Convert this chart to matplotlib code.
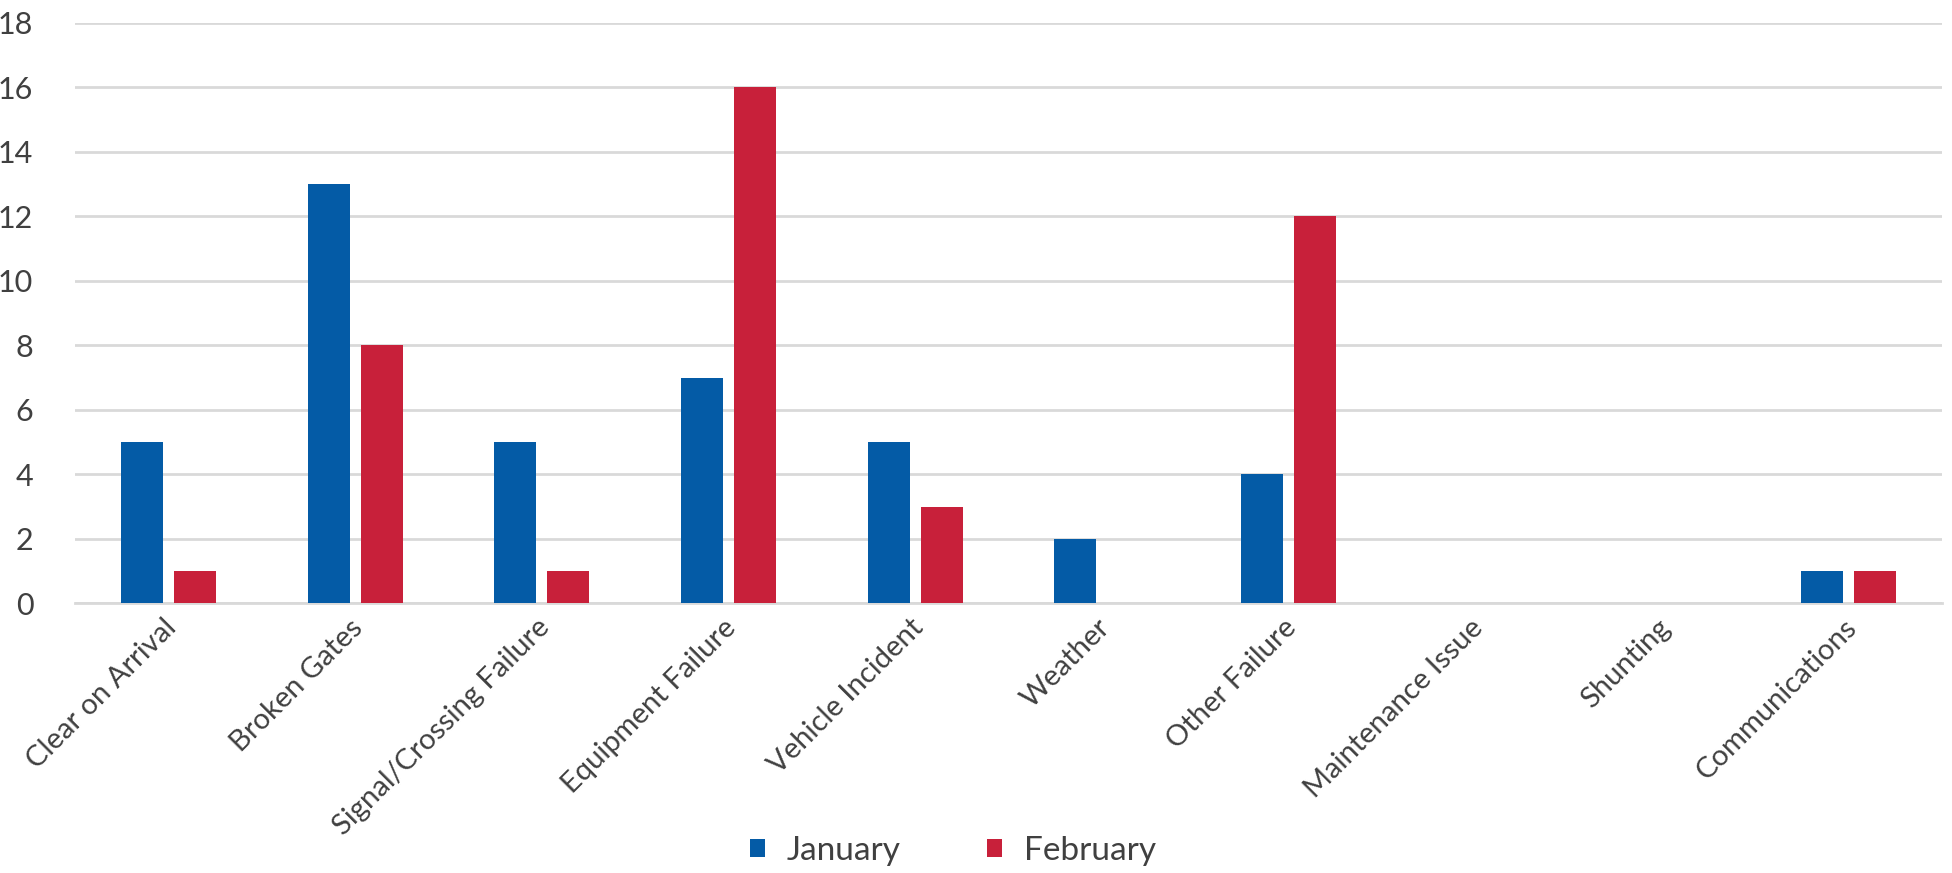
import matplotlib
matplotlib.use("Agg")
import matplotlib.pyplot as plt
import numpy as np

categories = ["Clear on Arrival", "Broken Gates", "Signal/Crossing Failure",
              "Equipment Failure", "Vehicle Incident", "Weather", "Other Failure",
              "Maintenance Issue", "Shunting", "Communications"]
january = [5, 13, 5, 7, 5, 2, 4, 0, 0, 1]
february = [1, 8, 1, 16, 3, 0, 12, 0, 0, 1]
series_names = ["January", "February"]
y_ticks = [0, 2, 4, 6, 8, 10, 12, 14, 16, 18]

blue = "#045BA6"
red = "#C8203A"
text_color = "#404040"
grid_color = "#D9D9D9"

plt.rcParams["font.family"] = ["Lato", "DejaVu Sans"]

fig = plt.figure(figsize=(19.52, 8.73), dpi=100)
ax = fig.add_axes([0.0384, 0.309, 0.9566, 0.6647])

x = np.arange(len(categories))
w = 0.225
off = 0.142
ax.bar(x - off, january, width=w, color=blue, label=series_names[0], zorder=3)
ax.bar(x + off, february, width=w, color=red, label=series_names[1], zorder=3)

ax.set_xlim(-0.5, len(categories) - 0.5)
ax.set_ylim(0, 18)
ax.set_yticks(y_ticks)
ax.set_yticklabels([str(t) for t in y_ticks], fontsize=22, color=text_color)
ax.yaxis.grid(True, color=grid_color, linewidth=2, zorder=0)
ax.set_axisbelow(True)

ax.set_xticks(x - 0.03)
ax.set_xticklabels(categories, rotation=45, ha="right", rotation_mode="anchor",
                   fontsize=21, color=text_color)
ax.tick_params(axis="both", length=0)
ax.tick_params(axis="x", pad=8)
ax.tick_params(axis="y", pad=30)

for side in ["top", "right", "left"]:
    ax.spines[side].set_visible(False)
ax.spines["bottom"].set_color(grid_color)
ax.spines["bottom"].set_linewidth(2)

leg = fig.legend(loc="center", bbox_to_anchor=(0.488, 0.025), ncol=2, frameon=False,
                 fontsize=24, handlelength=0.45, handleheight=0.45,
                 handletextpad=0.65, columnspacing=2.6)
for t in leg.get_texts():
    t.set_color(text_color)

fig.savefig("out.png", dpi=100)
